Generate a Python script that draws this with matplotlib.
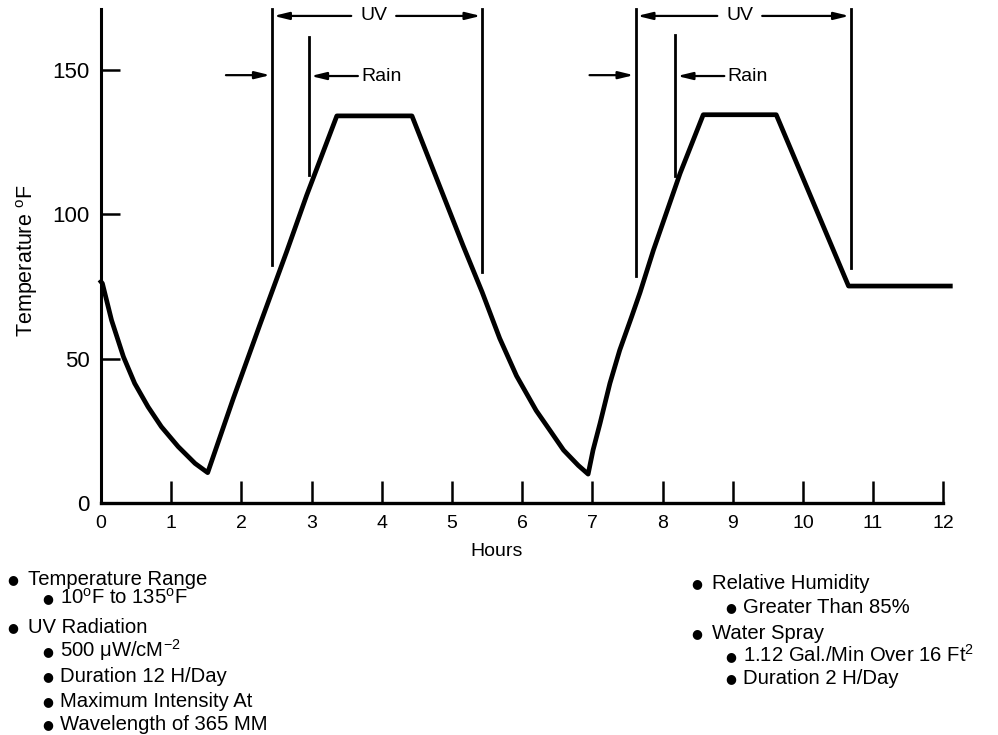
import matplotlib
matplotlib.use("Agg")
import matplotlib.pyplot as plt

plt.rcParams['font.family'] = ['Liberation Sans', 'DejaVu Sans']
plt.rcParams['mathtext.fontset'] = 'custom'
plt.rcParams['mathtext.rm'] = 'Liberation Sans'
plt.rcParams['mathtext.it'] = 'Liberation Sans:italic'
plt.rcParams['mathtext.bf'] = 'Liberation Sans:bold'
plt.rcParams['mathtext.sf'] = 'Liberation Sans'

# ---- data ----
hours = [0, 0.02, 0.15, 0.32, 0.48, 0.67, 0.86, 1.10, 1.34, 1.52,
         1.885, 2.265, 2.645, 2.93, 3.36, 4.43,
         5.16, 5.43, 5.68, 5.92, 6.20, 6.40, 6.59, 6.80, 6.94,
         7.01, 7.11, 7.25, 7.39, 7.56, 7.68, 7.87, 8.25, 8.58, 9.62, 10.65, 12.1]
temperature = [76.6, 76.0, 63.3, 50.6, 41.4, 33.3, 26.4, 19.5, 13.7, 10.5,
               36.2, 61.8, 87.0, 106.5, 134.0, 134.0,
               89.0, 73.0, 57.0, 44.0, 32.0, 25.0, 18.3, 13.0, 10.0,
               18.3, 27.6, 41.4, 52.9, 64.5, 72.9, 87.5, 114.1, 134.4, 134.4, 75.1, 75.1]

x_ticks = list(range(0, 13))
y_ticks = [0, 50, 100, 150]

uv_start = [2.44, 7.62]
uv_end = [5.43, 10.68]
uv_start_bottom = [82.4, 78.5]
uv_end_bottom = [79.9, 81.3]
rain_start = [2.96, 8.18]
rain_top = [161.2, 162.0]
rain_bottom = [113.5, 113.1]

left_notes = [
    ("Temperature Range", 0),
    ("10$^{\\rm o}$F to 135$^{\\rm o}$F", 1),
    ("UV Radiation", 0),
    ("500 \u03bcW/cM$^{-2}$", 1),
    ("Duration 12 H/Day", 1),
    ("Maximum Intensity At", 1),
    ("Wavelength of 365 MM", 1),
]
left_baselines = [585, 604, 633, 657, 682, 707, 730]
right_notes = [
    ("Relative Humidity", 0),
    ("Greater Than 85%", 1),
    ("Water Spray", 0),
    ("1.12 Gal./Min Over 16 Ft$^{2}$", 1),
    ("Duration 2 H/Day", 1),
]
right_baselines = [589, 613, 639, 662, 684]

# ---- figure ----
W, H = 998, 735
fig = plt.figure(figsize=(W / 100, H / 100), dpi=100)
ax = fig.add_axes([101 / W, 1 - 503 / H, 842.3 / W, (503 - 9) / H])

ax.plot(hours, temperature, color='black', lw=3.4, solid_joinstyle='round',
        clip_on=False, zorder=3)

ax.set_xlim(0, 12)
ax.set_ylim(0, 171)
for s in ['top', 'right']:
    ax.spines[s].set_visible(False)
ax.spines['left'].set_linewidth(2.2)
ax.spines['bottom'].set_linewidth(2.4)

ax.set_xticks(x_ticks)
ax.set_xticklabels([str(t) for t in x_ticks])
ax.set_yticks(y_ticks)
ax.set_yticklabels([str(t) for t in y_ticks])
ax.tick_params(axis='x', direction='in', length=16, width=1.8, pad=9, labelsize=14)
ax.tick_params(axis='y', direction='in', length=14, width=1.8, pad=8, labelsize=16)

ax.set_xlabel('Hours', fontsize=14)
ax.xaxis.set_label_coords((497 - 101) / 842.3, -(551.7 - 503) / 494, transform=ax.transAxes)
ax.xaxis.label.set_va('center')
ax.set_ylabel('Temperature $^{\\rm o}$F', fontsize=15.5)
ax.yaxis.set_label_coords(-(101 - 27) / 842.3, (503 - 261) / 494)
ax.yaxis.label.set_va('center')

head = '-|>,head_length=0.9,head_width=0.22'
ap = dict(arrowstyle=head, lw=1.6, color='black', shrinkA=0, shrinkB=0)

for i in range(2):
    # vertical lines
    ax.plot([uv_start[i], uv_start[i]], [uv_start_bottom[i], 171], color='black',
            lw=2.0, clip_on=False)
    ax.plot([uv_end[i], uv_end[i]], [uv_end_bottom[i], 171], color='black',
            lw=2.0, clip_on=False)
    ax.plot([rain_start[i], rain_start[i]], [rain_bottom[i], rain_top[i]],
            color='black', lw=2.0, clip_on=False)
    # UV label and arrows
    mid = (uv_start[i] + uv_end[i]) / 2 - 0.05
    y_uv = 168.6
    ax.text(mid, y_uv, 'UV', ha='center', va='center', fontsize=14)
    ax.annotate('', xy=(uv_start[i] + 0.02, y_uv), xytext=(mid - 0.32, y_uv), arrowprops=ap)
    ax.annotate('', xy=(uv_end[i] - 0.02, y_uv), xytext=(mid + 0.32, y_uv), arrowprops=ap)
    # arrow at start of UV
    ax.annotate('', xy=(uv_start[i] - 0.03, 148.1), xytext=(uv_start[i] - 0.66, 148.1),
                arrowprops=ap)
    # rain arrow and label
    ax.annotate('', xy=(rain_start[i] + 0.03, 147.8), xytext=(rain_start[i] + 0.70, 147.8),
                arrowprops=ap)
    ax.text(rain_start[i] + 0.75, 147.8, 'Rain', ha='left', va='center', fontsize=14)

# ---- notes below the chart ----
def note_block(notes, baselines, x_main, x_sub, gap_main, gap_sub):
    for (txt, lvl), yb in zip(notes, baselines):
        xt = x_main if lvl == 0 else x_sub
        gap = gap_main if lvl == 0 else gap_sub
        fig.text(xt / W, 1 - yb / H, txt, ha='left', va='baseline', fontsize=14.6)
        fig.text((xt - gap) / W, 1 - (yb - 5.5) / H, '\u25cf', ha='center',
                 va='center', fontsize=9, family='DejaVu Sans')

note_block(left_notes, left_baselines, 28, 60, 15, 12)
note_block(right_notes, right_baselines, 712, 743, 15, 12)

fig.savefig('out.png', dpi=100)
